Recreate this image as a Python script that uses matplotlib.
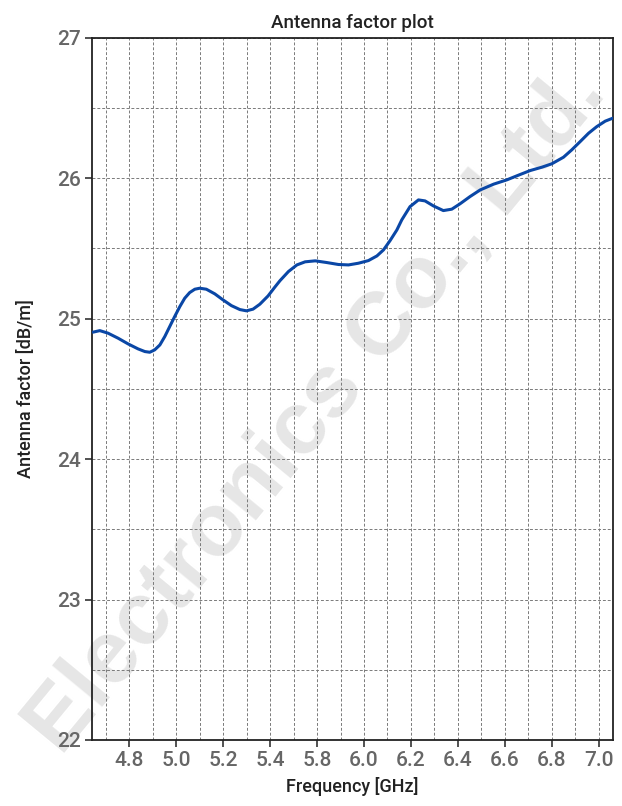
import matplotlib
matplotlib.use("Agg")
import matplotlib.pyplot as plt
from matplotlib.ticker import FixedLocator, FixedFormatter, MultipleLocator

# tick positions on the axis and the labels printed under them (the source skips 5.6)
x_tick_pos = [5.0, 5.2, 5.4, 5.6, 5.8, 6.0, 6.2, 6.4, 6.6, 6.8, 7.0]
x_tick_labels = ["4.8", "5.0", "5.2", "5.4", "5.8", "6.0", "6.2", "6.4", "6.6", "6.8", "7.0"]
y_ticks = [22, 23, 24, 25, 26, 27]

# curve (axis position, antenna factor dB/m)
freq = [4.845, 4.874, 4.909, 4.952, 4.994, 5.037, 5.066, 5.087, 5.108, 5.130,
        5.151, 5.172, 5.193, 5.215, 5.236, 5.257, 5.279, 5.300, 5.328, 5.364,
        5.399, 5.435, 5.471, 5.499, 5.527, 5.556, 5.591, 5.620, 5.642, 5.678,
        5.714, 5.749, 5.792, 5.841, 5.891, 5.934, 5.976, 6.019, 6.055, 6.083,
        6.111, 6.140, 6.161, 6.196, 6.232, 6.260, 6.296, 6.338, 6.374, 6.409,
        6.452, 6.495, 6.552, 6.609, 6.658, 6.708, 6.758, 6.800, 6.850, 6.885,
        6.921, 6.957, 6.992, 7.028, 7.060]
af = [24.904, 24.915, 24.897, 24.861, 24.821, 24.785, 24.766, 24.761, 24.778, 24.813,
      24.873, 24.944, 25.015, 25.086, 25.146, 25.186, 25.210, 25.217, 25.210, 25.177,
      25.134, 25.093, 25.065, 25.056, 25.068, 25.103, 25.162, 25.225, 25.271, 25.336,
      25.383, 25.405, 25.412, 25.400, 25.386, 25.383, 25.395, 25.414, 25.447, 25.490,
      25.556, 25.632, 25.704, 25.798, 25.846, 25.839, 25.803, 25.770, 25.780, 25.818,
      25.870, 25.917, 25.958, 25.989, 26.022, 26.055, 26.079, 26.103, 26.150, 26.202,
      26.261, 26.321, 26.368, 26.407, 26.428]

FONT = ["Liberation Sans Narrow", "Roboto", "DejaVu Sans"]
plt.rcParams["font.family"] = FONT

fig = plt.figure(figsize=(6.22, 8.06), dpi=100)
ax = fig.add_axes([0.148, 0.082, 0.8375, 0.871])

# watermark behind the grid
ax.text(0.51, 0.49, "Electronics Co., Ltd.", transform=fig.transFigure,
        rotation=50.5, ha="center", va="center", fontsize=64, fontweight="bold",
        family=["Liberation Sans", "DejaVu Sans"], color="#e6e6e6",
        zorder=0, clip_on=False)

ax.plot(freq, af, color="#0a47a6", lw=2.2, zorder=3,
        solid_joinstyle="round", solid_capstyle="round")

ax.set_xlim(4.841, 7.061)
ax.set_ylim(22, 27)
ax.xaxis.set_major_locator(FixedLocator(x_tick_pos))
ax.xaxis.set_major_formatter(FixedFormatter(x_tick_labels))
ax.xaxis.set_minor_locator(MultipleLocator(0.1))
ax.yaxis.set_major_locator(FixedLocator(y_ticks))
ax.yaxis.set_minor_locator(MultipleLocator(0.5))

ax.set_axisbelow(True)
ax.grid(which="both", color="#7a7a7a", ls=(0, (3, 2)), lw=0.7)
ax.tick_params(which="major", direction="out", length=5, width=1.1, color="#222222",
               labelsize=15, labelcolor="#666666", pad=3)
ax.tick_params(which="minor", length=0)
for lab in ax.get_xticklabels() + ax.get_yticklabels():
    lab.set_fontweight("medium")
for s in ax.spines.values():
    s.set_linewidth(1.3)
    s.set_color("#222222")

ax.set_title("Antenna factor plot", fontsize=13.5, fontweight="medium",
             color="#222222", pad=7)
ax.set_xlabel("Frequency [GHz]", fontsize=13, fontweight="medium",
              color="#222222", labelpad=5)
ax.set_ylabel("Antenna factor [dB/m]", fontsize=13, fontweight="medium",
              color="#222222", labelpad=16)

fig.savefig("out.png", dpi=100)
